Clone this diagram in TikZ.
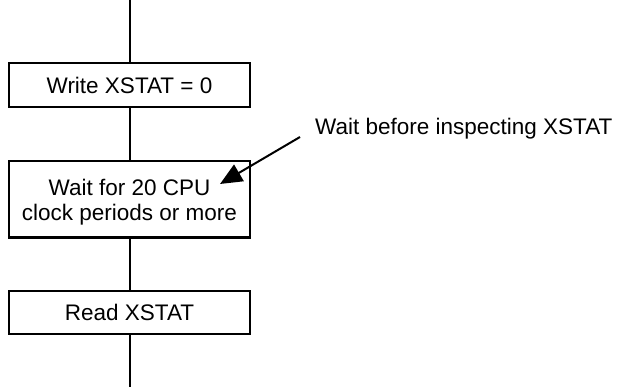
\documentclass[tikz,border=0pt]{standalone}
\usepackage{fontspec}
\setmainfont{Liberation Sans}
\usetikzlibrary{arrows.meta}
\begin{document}
\begin{tikzpicture}[x=1pt,y=-1pt,
  every node/.style={font=\fontsize{22.5}{25}\selectfont},
  flowbox/.style={draw,line width=2pt,minimum width=241pt,inner sep=0pt,align=center},
  conn/.style={line width=2pt},
  pointer/.style={line width=2pt,-{Triangle[length=22pt,width=19pt]}}]
\useasboundingbox (0,0) rectangle (623,387);
\coordinate (top) at (129.5,0);
\coordinate (bot) at (129.5,387);
\node[flowbox,minimum height=44pt] (b1) at (129.5,85) {Write XSTAT = 0};
\node[flowbox,minimum height=76pt,text depth=0pt] (b2) at (129.5,199.5) {Wait for 20 CPU\\clock periods or more};
\node[flowbox,minimum height=43pt] (b3) at (129.5,312.5) {Read XSTAT};
\node[inner sep=0pt,anchor=base west] (lab) at (315,135) {Wait before inspecting XSTAT};
\coordinate (as) at (300,137);
\coordinate (at) at (220,184);
\draw[conn] (top) -- (b1.north);
\draw[conn] (b1.south) -- (b2.north);
\draw[conn] (b2.south) -- (b3.north);
\draw[conn] (b3.south) -- (bot);
\draw[pointer] (as) -- (at);
\end{tikzpicture}
\end{document}
